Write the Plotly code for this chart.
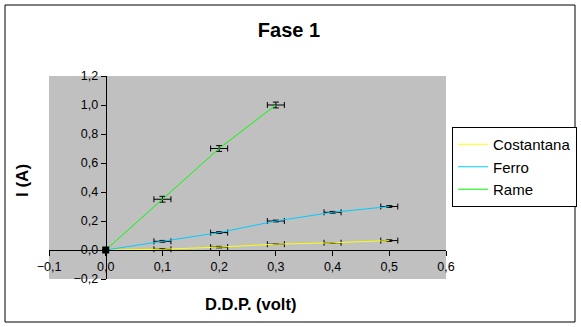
import plotly.graph_objects as go

# Measured data: voltage (V) vs current (A) for three wire materials
ddp = [0.0, 0.1, 0.2, 0.3, 0.4, 0.5]
ddp_rame = [0.0, 0.1, 0.2, 0.3]

i_costantana = [0.0, 0.005, 0.02, 0.04, 0.05, 0.065]
i_ferro = [0.0, 0.06, 0.12, 0.2, 0.26, 0.3]
i_rame = [0.0, 0.35, 0.7, 1.0]

# Measurement uncertainties
err_ddp = [0.0, 0.015, 0.015, 0.015, 0.015, 0.015]
err_ddp_rame = [0.0, 0.015, 0.015, 0.015]
err_i_costantana = [0.0, 0.005, 0.005, 0.0, 0.0, 0.005]
err_i_ferro = [0.0, 0.006, 0.006, 0.006, 0.006, 0.006]
err_i_rame = [0.0, 0.02, 0.02, 0.02]

x_range = [-0.1, 0.6]
y_range = [-0.2, 1.2]
x_ticks = [-0.1, 0.0, 0.1, 0.2, 0.3, 0.4, 0.5, 0.6]
y_ticks = [-0.2, 0.0, 0.2, 0.4, 0.6, 0.8, 1.0, 1.2]

FONT = "Arial, Liberation Sans, sans-serif"
W, H = 581, 327
ML, MR, MT, MB = 49, 135, 76, 48
PW, PH = W - ML - MR, H - MT - MB


def ebar(arr, width):
    return dict(type="data", array=arr, symmetric=True, color="black",
                thickness=1, width=width)


fig = go.Figure()
series = [
    ("Costantana", ddp, i_costantana, err_ddp, err_i_costantana, "#FFFF00"),
    ("Ferro", ddp, i_ferro, err_ddp, err_i_ferro, "#00CCFF"),
    ("Rame", ddp_rame, i_rame, err_ddp_rame, err_i_rame, "#00FF00"),
]
for name, xs, ys, ex, ey, col in series:
    fig.add_trace(go.Scatter(
        x=xs, y=ys, name=name, mode="lines",
        line=dict(color=col, width=1),
        error_x=ebar(ex, 3), error_y=ebar(ey, 3),
    ))

# common origin point marker
fig.add_trace(go.Scatter(
    x=[ddp[0]], y=[i_rame[0]], mode="markers", showlegend=False,
    marker=dict(symbol="square", size=7, color="black"),
    hoverinfo="skip",
))

# positions of the axis lines (through the origin) in paper units
x0_pos = (0 - x_range[0]) / (x_range[1] - x_range[0])
y0_pos = (0 - y_range[0]) / (y_range[1] - y_range[0])

axis_common = dict(
    showgrid=False, zeroline=False, showline=True, linecolor="black",
    linewidth=1, ticks="outside", ticklen=5, tickcolor="black",
    tickformat=".1f", tickfont=dict(family=FONT, size=12.5, color="black"),
    anchor="free",
)

fig.update_layout(
    width=W, height=H,
    margin=dict(l=ML, r=MR, t=MT, b=MB, pad=0, autoexpand=False),
    paper_bgcolor="white", plot_bgcolor="#C0C0C0",
    separators=",.",
    showlegend=True,
    title=dict(text="<b>Fase 1</b>", x=289 / W, xanchor="center",
               y=1 - 29.5 / H, yanchor="middle",
               font=dict(family=FONT, size=20, color="black")),
    xaxis=dict(range=x_range, tickvals=x_ticks, position=y0_pos,
               domain=[0, 1], **axis_common),
    yaxis=dict(range=y_range, tickvals=y_ticks, position=x0_pos,
               domain=[0, 1], **axis_common),
    legend=dict(x=(452 - ML) / PW, y=(MT + PH - 127) / PH,
                xanchor="left", yanchor="top",
                bgcolor="white", bordercolor="black", borderwidth=1,
                font=dict(family=FONT, size=15, color="black"),
                tracegroupgap=0),
    annotations=[
        dict(text="<b>D.D.P. (volt)</b>", xref="paper", yref="paper",
             x=(250 - ML) / PW, y=(MT + PH - 304) / PH,
             xanchor="center", yanchor="middle", showarrow=False,
             font=dict(family=FONT, size=16.5, color="black")),
        dict(text="<b>I (A)</b>", xref="paper", yref="paper",
             x=(22 - ML) / PW, y=(MT + PH - 180) / PH, textangle=-90,
             xanchor="center", yanchor="middle", showarrow=False,
             font=dict(family=FONT, size=17, color="black")),
    ],
    shapes=[
        dict(type="rect", xref="paper", yref="paper",
             x0=(5 - ML) / PW, x1=(575 - ML) / PW,
             y0=(MT + PH - 322) / PH, y1=(MT + PH - 5) / PH,
             line=dict(color="black", width=1), fillcolor="rgba(0,0,0,0)",
             layer="above"),
    ],
)

fig.write_html("out.html")
